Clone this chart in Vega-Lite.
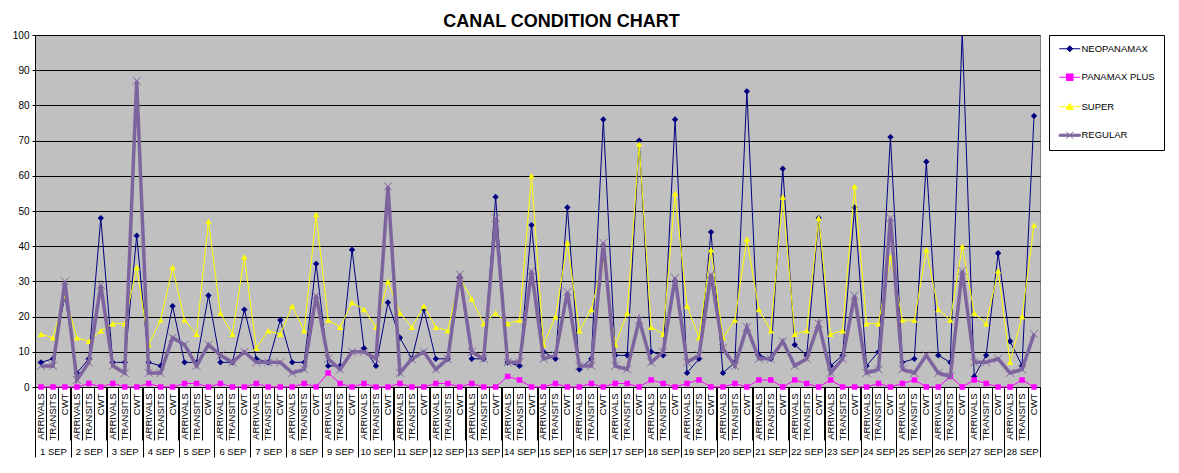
{
  "$schema": "https://vega.github.io/schema/vega-lite/v6.json",
  "autosize": {"type": "none"},
  "width": 1005,
  "height": 352,
  "padding": {"left": 35, "top": 35, "right": 139, "bottom": 86},
  "background": "white",
  "title": {"text": "CANAL CONDITION CHART", "fontSize": 18, "fontWeight": "bold", "font": "Liberation Sans", "color": "black", "anchor": "middle", "frame": "group", "offset": 8, "baseline": "alphabetic", "dx": 24, "dy": 23},
  "datasets": {
    "days": [{"n":1},{"n":2},{"n":3},{"n":4},{"n":5},{"n":6},{"n":7},{"n":8},{"n":9},{"n":10},{"n":11},{"n":12},{"n":13},{"n":14},{"n":15},{"n":16},{"n":17},{"n":18},{"n":19},{"n":20},{"n":21},{"n":22},{"n":23},{"n":24},{"n":25},{"n":26},{"n":27},{"n":28}],
    "neo": [
      {"k":"01a ARRIVALS","v":7},{"k":"01b TRANSITS","v":8},{"k":"01c CWT","v":26},
      {"k":"02a ARRIVALS","v":4},{"k":"02b TRANSITS","v":8},{"k":"02c CWT","v":48},
      {"k":"03a ARRIVALS","v":7},{"k":"03b TRANSITS","v":7},{"k":"03c CWT","v":43},
      {"k":"04a ARRIVALS","v":7},{"k":"04b TRANSITS","v":6},{"k":"04c CWT","v":23},
      {"k":"05a ARRIVALS","v":7},{"k":"05b TRANSITS","v":7},{"k":"05c CWT","v":26},
      {"k":"06a ARRIVALS","v":7},{"k":"06b TRANSITS","v":7},{"k":"06c CWT","v":22},
      {"k":"07a ARRIVALS","v":8},{"k":"07b TRANSITS","v":7},{"k":"07c CWT","v":19},
      {"k":"08a ARRIVALS","v":7},{"k":"08b TRANSITS","v":7},{"k":"08c CWT","v":35},
      {"k":"09a ARRIVALS","v":6},{"k":"09b TRANSITS","v":6},{"k":"09c CWT","v":39},
      {"k":"10a ARRIVALS","v":11},{"k":"10b TRANSITS","v":6},{"k":"10c CWT","v":24},
      {"k":"11a ARRIVALS","v":14},{"k":"11b TRANSITS","v":8},{"k":"11c CWT","v":22},
      {"k":"12a ARRIVALS","v":8},{"k":"12b TRANSITS","v":8},{"k":"12c CWT","v":31},
      {"k":"13a ARRIVALS","v":8},{"k":"13b TRANSITS","v":8},{"k":"13c CWT","v":54},
      {"k":"14a ARRIVALS","v":7},{"k":"14b TRANSITS","v":6},{"k":"14c CWT","v":46},
      {"k":"15a ARRIVALS","v":10},{"k":"15b TRANSITS","v":8},{"k":"15c CWT","v":51},
      {"k":"16a ARRIVALS","v":5},{"k":"16b TRANSITS","v":8},{"k":"16c CWT","v":76},
      {"k":"17a ARRIVALS","v":9},{"k":"17b TRANSITS","v":9},{"k":"17c CWT","v":70},
      {"k":"18a ARRIVALS","v":10},{"k":"18b TRANSITS","v":9},{"k":"18c CWT","v":76},
      {"k":"19a ARRIVALS","v":4},{"k":"19b TRANSITS","v":8},{"k":"19c CWT","v":44},
      {"k":"20a ARRIVALS","v":4},{"k":"20b TRANSITS","v":7},{"k":"20c CWT","v":84},
      {"k":"21a ARRIVALS","v":9},{"k":"21b TRANSITS","v":8},{"k":"21c CWT","v":62},
      {"k":"22a ARRIVALS","v":12},{"k":"22b TRANSITS","v":9},{"k":"22c CWT","v":48},
      {"k":"23a ARRIVALS","v":6},{"k":"23b TRANSITS","v":9},{"k":"23c CWT","v":51},
      {"k":"24a ARRIVALS","v":6},{"k":"24b TRANSITS","v":10},{"k":"24c CWT","v":71},
      {"k":"25a ARRIVALS","v":7},{"k":"25b TRANSITS","v":8},{"k":"25c CWT","v":64},
      {"k":"26a ARRIVALS","v":9},{"k":"26b TRANSITS","v":7},{"k":"26c CWT","v":101},
      {"k":"27a ARRIVALS","v":3},{"k":"27b TRANSITS","v":9},{"k":"27c CWT","v":38},
      {"k":"28a ARRIVALS","v":13},{"k":"28b TRANSITS","v":6},{"k":"28c CWT","v":77}
    ],
    "pp": [
      {"k":"01a ARRIVALS","v":0},{"k":"01b TRANSITS","v":0},{"k":"01c CWT","v":0},
      {"k":"02a ARRIVALS","v":0},{"k":"02b TRANSITS","v":1},{"k":"02c CWT","v":0},
      {"k":"03a ARRIVALS","v":1},{"k":"03b TRANSITS","v":0},{"k":"03c CWT","v":0},
      {"k":"04a ARRIVALS","v":1},{"k":"04b TRANSITS","v":0},{"k":"04c CWT","v":0},
      {"k":"05a ARRIVALS","v":1},{"k":"05b TRANSITS","v":1},{"k":"05c CWT","v":0},
      {"k":"06a ARRIVALS","v":1},{"k":"06b TRANSITS","v":0},{"k":"06c CWT","v":0},
      {"k":"07a ARRIVALS","v":1},{"k":"07b TRANSITS","v":0},{"k":"07c CWT","v":0},
      {"k":"08a ARRIVALS","v":0},{"k":"08b TRANSITS","v":1},{"k":"08c CWT","v":0},
      {"k":"09a ARRIVALS","v":4},{"k":"09b TRANSITS","v":1},{"k":"09c CWT","v":0},
      {"k":"10a ARRIVALS","v":1},{"k":"10b TRANSITS","v":0},{"k":"10c CWT","v":0},
      {"k":"11a ARRIVALS","v":1},{"k":"11b TRANSITS","v":0},{"k":"11c CWT","v":0},
      {"k":"12a ARRIVALS","v":1},{"k":"12b TRANSITS","v":1},{"k":"12c CWT","v":0},
      {"k":"13a ARRIVALS","v":1},{"k":"13b TRANSITS","v":0},{"k":"13c CWT","v":0},
      {"k":"14a ARRIVALS","v":3},{"k":"14b TRANSITS","v":2},{"k":"14c CWT","v":0},
      {"k":"15a ARRIVALS","v":0},{"k":"15b TRANSITS","v":1},{"k":"15c CWT","v":0},
      {"k":"16a ARRIVALS","v":0},{"k":"16b TRANSITS","v":1},{"k":"16c CWT","v":0},
      {"k":"17a ARRIVALS","v":1},{"k":"17b TRANSITS","v":1},{"k":"17c CWT","v":0},
      {"k":"18a ARRIVALS","v":2},{"k":"18b TRANSITS","v":1},{"k":"18c CWT","v":0},
      {"k":"19a ARRIVALS","v":1},{"k":"19b TRANSITS","v":2},{"k":"19c CWT","v":0},
      {"k":"20a ARRIVALS","v":0},{"k":"20b TRANSITS","v":1},{"k":"20c CWT","v":0},
      {"k":"21a ARRIVALS","v":2},{"k":"21b TRANSITS","v":2},{"k":"21c CWT","v":0},
      {"k":"22a ARRIVALS","v":2},{"k":"22b TRANSITS","v":1},{"k":"22c CWT","v":0},
      {"k":"23a ARRIVALS","v":2},{"k":"23b TRANSITS","v":0},{"k":"23c CWT","v":0},
      {"k":"24a ARRIVALS","v":0},{"k":"24b TRANSITS","v":1},{"k":"24c CWT","v":0},
      {"k":"25a ARRIVALS","v":1},{"k":"25b TRANSITS","v":2},{"k":"25c CWT","v":0},
      {"k":"26a ARRIVALS","v":0},{"k":"26b TRANSITS","v":3},{"k":"26c CWT","v":0},
      {"k":"27a ARRIVALS","v":2},{"k":"27b TRANSITS","v":1},{"k":"27c CWT","v":0},
      {"k":"28a ARRIVALS","v":0},{"k":"28b TRANSITS","v":2},{"k":"28c CWT","v":0}
    ],
    "sup": [
      {"k":"01a ARRIVALS","v":15},{"k":"01b TRANSITS","v":14},{"k":"01c CWT","v":26},
      {"k":"02a ARRIVALS","v":14},{"k":"02b TRANSITS","v":13},{"k":"02c CWT","v":16},
      {"k":"03a ARRIVALS","v":18},{"k":"03b TRANSITS","v":18},{"k":"03c CWT","v":34},
      {"k":"04a ARRIVALS","v":12},{"k":"04b TRANSITS","v":19},{"k":"04c CWT","v":34},
      {"k":"05a ARRIVALS","v":19},{"k":"05b TRANSITS","v":15},{"k":"05c CWT","v":47},
      {"k":"06a ARRIVALS","v":21},{"k":"06b TRANSITS","v":15},{"k":"06c CWT","v":37},
      {"k":"07a ARRIVALS","v":11},{"k":"07b TRANSITS","v":16},{"k":"07c CWT","v":15},
      {"k":"08a ARRIVALS","v":23},{"k":"08b TRANSITS","v":16},{"k":"08c CWT","v":49},
      {"k":"09a ARRIVALS","v":19},{"k":"09b TRANSITS","v":17},{"k":"09c CWT","v":24},
      {"k":"10a ARRIVALS","v":22},{"k":"10b TRANSITS","v":17},{"k":"10c CWT","v":30},
      {"k":"11a ARRIVALS","v":21},{"k":"11b TRANSITS","v":17},{"k":"11c CWT","v":23},
      {"k":"12a ARRIVALS","v":17},{"k":"12b TRANSITS","v":16},{"k":"12c CWT","v":31},
      {"k":"13a ARRIVALS","v":25},{"k":"13b TRANSITS","v":18},{"k":"13c CWT","v":21},
      {"k":"14a ARRIVALS","v":18},{"k":"14b TRANSITS","v":19},{"k":"14c CWT","v":60},
      {"k":"15a ARRIVALS","v":12},{"k":"15b TRANSITS","v":20},{"k":"15c CWT","v":41},
      {"k":"16a ARRIVALS","v":16},{"k":"16b TRANSITS","v":22},{"k":"16c CWT","v":36},
      {"k":"17a ARRIVALS","v":12},{"k":"17b TRANSITS","v":21},{"k":"17c CWT","v":69},
      {"k":"18a ARRIVALS","v":17},{"k":"18b TRANSITS","v":15},{"k":"18c CWT","v":55},
      {"k":"19a ARRIVALS","v":23},{"k":"19b TRANSITS","v":14},{"k":"19c CWT","v":39},
      {"k":"20a ARRIVALS","v":14},{"k":"20b TRANSITS","v":19},{"k":"20c CWT","v":42},
      {"k":"21a ARRIVALS","v":22},{"k":"21b TRANSITS","v":16},{"k":"21c CWT","v":54},
      {"k":"22a ARRIVALS","v":15},{"k":"22b TRANSITS","v":16},{"k":"22c CWT","v":48},
      {"k":"23a ARRIVALS","v":15},{"k":"23b TRANSITS","v":16},{"k":"23c CWT","v":57},
      {"k":"24a ARRIVALS","v":18},{"k":"24b TRANSITS","v":18},{"k":"24c CWT","v":37},
      {"k":"25a ARRIVALS","v":19},{"k":"25b TRANSITS","v":19},{"k":"25c CWT","v":39},
      {"k":"26a ARRIVALS","v":22},{"k":"26b TRANSITS","v":19},{"k":"26c CWT","v":40},
      {"k":"27a ARRIVALS","v":21},{"k":"27b TRANSITS","v":18},{"k":"27c CWT","v":33},
      {"k":"28a ARRIVALS","v":7},{"k":"28b TRANSITS","v":20},{"k":"28c CWT","v":46}
    ],
    "reg": [
      {"k":"01a ARRIVALS","v":6},{"k":"01b TRANSITS","v":6},{"k":"01c CWT","v":30},
      {"k":"02a ARRIVALS","v":2},{"k":"02b TRANSITS","v":7},{"k":"02c CWT","v":29},
      {"k":"03a ARRIVALS","v":6},{"k":"03b TRANSITS","v":4},{"k":"03c CWT","v":87},
      {"k":"04a ARRIVALS","v":4},{"k":"04b TRANSITS","v":4},{"k":"04c CWT","v":14},
      {"k":"05a ARRIVALS","v":12},{"k":"05b TRANSITS","v":6},{"k":"05c CWT","v":12},
      {"k":"06a ARRIVALS","v":9},{"k":"06b TRANSITS","v":7},{"k":"06c CWT","v":10},
      {"k":"07a ARRIVALS","v":7},{"k":"07b TRANSITS","v":7},{"k":"07c CWT","v":7},
      {"k":"08a ARRIVALS","v":4},{"k":"08b TRANSITS","v":5},{"k":"08c CWT","v":26},
      {"k":"09a ARRIVALS","v":8},{"k":"09b TRANSITS","v":5},{"k":"09c CWT","v":10},
      {"k":"10a ARRIVALS","v":10},{"k":"10b TRANSITS","v":8},{"k":"10c CWT","v":57},
      {"k":"11a ARRIVALS","v":4},{"k":"11b TRANSITS","v":8},{"k":"11c CWT","v":10},
      {"k":"12a ARRIVALS","v":5},{"k":"12b TRANSITS","v":8},{"k":"12c CWT","v":32},
      {"k":"13a ARRIVALS","v":10},{"k":"13b TRANSITS","v":8},{"k":"13c CWT","v":48},
      {"k":"14a ARRIVALS","v":7},{"k":"14b TRANSITS","v":7},{"k":"14c CWT","v":33},
      {"k":"15a ARRIVALS","v":8},{"k":"15b TRANSITS","v":9},{"k":"15c CWT","v":27},
      {"k":"16a ARRIVALS","v":6},{"k":"16b TRANSITS","v":6},{"k":"16c CWT","v":41},
      {"k":"17a ARRIVALS","v":6},{"k":"17b TRANSITS","v":5},{"k":"17c CWT","v":19},
      {"k":"18a ARRIVALS","v":7},{"k":"18b TRANSITS","v":10},{"k":"18c CWT","v":31},
      {"k":"19a ARRIVALS","v":7},{"k":"19b TRANSITS","v":9},{"k":"19c CWT","v":32},
      {"k":"20a ARRIVALS","v":11},{"k":"20b TRANSITS","v":6},{"k":"20c CWT","v":17},
      {"k":"21a ARRIVALS","v":8},{"k":"21b TRANSITS","v":8},{"k":"21c CWT","v":13},
      {"k":"22a ARRIVALS","v":6},{"k":"22b TRANSITS","v":8},{"k":"22c CWT","v":18},
      {"k":"23a ARRIVALS","v":4},{"k":"23b TRANSITS","v":8},{"k":"23c CWT","v":26},
      {"k":"24a ARRIVALS","v":4},{"k":"24b TRANSITS","v":5},{"k":"24c CWT","v":48},
      {"k":"25a ARRIVALS","v":5},{"k":"25b TRANSITS","v":4},{"k":"25c CWT","v":9},
      {"k":"26a ARRIVALS","v":4},{"k":"26b TRANSITS","v":3},{"k":"26c CWT","v":33},
      {"k":"27a ARRIVALS","v":7},{"k":"27b TRANSITS","v":7},{"k":"27c CWT","v":8},
      {"k":"28a ARRIVALS","v":4},{"k":"28b TRANSITS","v":5},{"k":"28c CWT","v":15}
    ]
  },
  "layer": [
    {
      "data": {"name": "days"},
      "mark": {"type": "point", "opacity": 0},
      "encoding": {
        "x": {"field": "n", "type": "quantitative",
          "scale": {"domain": [0, 28], "nice": false, "zero": false},
          "axis": {"orient": "bottom", "values": [0,1,2,3,4,5,6,7,8,9,10,11,12,13,14,15,16,17,18,19,20,21,22,23,24,25,26,27,28],
            "labelExpr": "datum.value < 28 ? (datum.value + 1) + ' SEP' : ''",
            "tickSize": 70, "tickColor": "black", "tickWidth": 1, "domain": false, "grid": false,
            "labelPadding": -11, "labelOffset": 17.95, "labelAlign": "center",
            "labelFont": "Liberation Sans", "labelFontSize": 9.5, "labelColor": "black",
            "labelFlush": false, "labelOverlap": false, "labelBound": false, "title": null}
        }
      }
    },
    {
      "encoding": {
        "x": {"field": "k", "type": "ordinal", "bandPosition": 0.5,
          "scale": {"type": "band", "paddingInner": 0, "paddingOuter": 0},
          "axis": {"orient": "bottom", "bandPosition": 0, "tickSize": 53, "tickColor": "black", "domainColor": "black",
            "labelAngle": -90, "labelPadding": -47, "labelExpr": "substring(datum.value, 4)",
            "labelFont": "Liberation Sans", "labelFontSize": 9.5, "labelColor": "black",
            "labelOverlap": false, "labelBound": false, "title": null}
        },
        "y": {"field": "v", "type": "quantitative",
          "scale": {"domain": [0, 100], "nice": false},
          "axis": {"values": [0,10,20,30,40,50,60,70,80,90,100], "grid": true, "gridColor": "black", "gridWidth": 1, "gridOpacity": 1,
            "domainColor": "black", "tickColor": "black", "tickSize": 3, "labelPadding": 3,
            "labelFont": "Liberation Sans", "labelFontSize": 10, "labelColor": "black", "title": null}
        }
      },
      "layer": [
        {
          "data": {"name": "neo"},
          "mark": {"type": "line", "color": "#000080", "strokeWidth": 1, "clip": true,
            "point": {"filled": true, "shape": "diamond", "size": 40, "color": "#000080", "clip": true}}
        },
        {
          "data": {"name": "pp"},
          "mark": {"type": "line", "color": "#FF00FF", "strokeWidth": 1,
            "point": {"filled": true, "shape": "square", "size": 30, "color": "#FF00FF"}}
        },
        {
          "data": {"name": "sup"},
          "mark": {"type": "line", "color": "#FFFF00", "strokeWidth": 1,
            "point": {"filled": true, "shape": "triangle-up", "size": 40, "color": "#FFFF00"}}
        },
        {
          "data": {"name": "reg"},
          "mark": {"type": "line", "color": "#7E649E", "strokeWidth": 3.5,
            "point": {"filled": false, "shape": "M-1,-1L1,1M-1,1L1,-1", "size": 64, "color": "#7E649E", "strokeWidth": 1}}
        },
        {
          "data": {"values": []},
          "mark": {"type": "point", "filled": true, "opacity": 1},
          "encoding": {
            "shape": {"field": "s", "type": "nominal", "title": null,
              "scale": {"domain": ["NEOPANAMAX", "PANAMAX PLUS", "SUPER", "REGULAR"],
                "range": ["M-3,0H3M0,-0.85L0.85,0L0,0.85L-0.85,0Z", "M-3,0H3M-0.95,-0.95H0.95V0.95H-0.95Z", "M-3,0H3M0,-1L1,0.75H-1Z", "M-3,-0.3H3V0.3H-3ZM-1,-1L1,1M-1,1L1,-1"]}},
            "fill": {"field": "s", "type": "nominal", "title": null,
              "scale": {"domain": ["NEOPANAMAX", "PANAMAX PLUS", "SUPER", "REGULAR"], "range": ["#000080", "#FF00FF", "#FFFF00", "#7E649E"]}},
            "stroke": {"field": "s", "type": "nominal", "title": null,
              "scale": {"domain": ["NEOPANAMAX", "PANAMAX PLUS", "SUPER", "REGULAR"], "range": ["#000080", "#FF00FF", "#FFFF00", "#7E649E"]}}
          }
        }
      ]
    }
  ],
  "resolve": {"scale": {"x": "independent"}, "axis": {"x": "independent"}},
  "config": {
    "view": {"stroke": "#808080", "fill": "#C0C0C0"},
    "legend": {"orient": "none", "legendX": 1014, "legendY": 0, "strokeColor": "black", "fillColor": "white",
      "padding": 9, "rowPadding": 17.5, "symbolSize": 49, "symbolOffset": 7, "labelOffset": 7, "symbolOpacity": 1,
      "labelFont": "Liberation Sans", "labelFontSize": 9.5, "labelColor": "black", "symbolStrokeWidth": 1}
  }
}
